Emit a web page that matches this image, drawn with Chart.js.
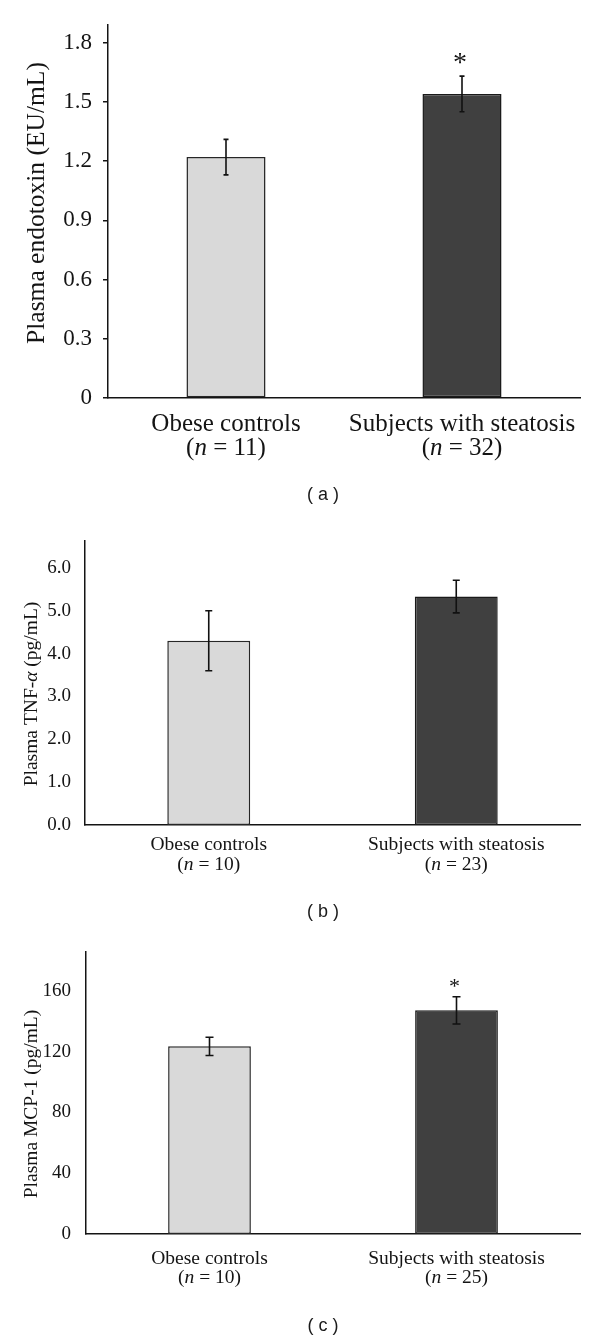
<!DOCTYPE html>
<html>
<head>
<meta charset="utf-8">
<script src="https://cdn.jsdelivr.net/npm/chart.js@4.4.1/dist/chart.umd.min.js"></script>
<style>
  html, body { margin: 0; padding: 0; background: #fff; }
  #page { position: relative; width: 600px; height: 1340px; }
  canvas { position: absolute; left: 0; }
  .cap { position: absolute; left: 0; width: 646px; text-align: center;
         font: 18px "Liberation Sans", Arial, sans-serif; color: #1a1a1a; line-height: 20px; }
</style>
</head>
<body>
<div id="page">
  <canvas id="chartA" width="600" height="520" style="top:0px"></canvas>
  <canvas id="chartB" width="600" height="410" style="top:520px"></canvas>
  <canvas id="chartC" width="600" height="410" style="top:930px"></canvas>
  <div class="cap" style="top:484px">( a )</div>
  <div class="cap" style="top:901px">( b )</div>
  <div class="cap" style="top:1315px">( c )</div>
</div>
<script>
// groups shared by all three panels
const groups = ['Obese controls', 'Subjects with steatosis'];

// (a) plasma endotoxin
const endotoxinN = [11, 32];
const endotoxinMean = [1.22, 1.54];
const endotoxinSem = [0.09, 0.09];
const endotoxinSig = ['', '*'];
const endotoxinTicks = [0, 0.3, 0.6, 0.9, 1.2, 1.5, 1.8];
const endotoxinTickLabels = ['0', '0.3', '0.6', '0.9', '1.2', '1.5', '1.8'];

// (b) plasma TNF-alpha
const tnfN = [10, 23];
const tnfMean = [4.30, 5.33];
const tnfSem = [0.70, 0.38];
const tnfSig = ['', ''];
const tnfTicks = [0, 1, 2, 3, 4, 5, 6];
const tnfTickLabels = ['0.0', '1.0', '2.0', '3.0', '4.0', '5.0', '6.0'];

// (c) plasma MCP-1
const mcpN = [10, 25];
const mcpMean = [123.5, 147.2];
const mcpSem = [6, 9];
const mcpSig = ['', '*'];
const mcpTicks = [0, 40, 80, 120, 160];
const mcpTickLabels = ['0', '40', '80', '120', '160'];

const SERIF = '"Liberation Serif", "Times New Roman", serif';
const INK = '#141414';

// draw a line made of plain / italic pieces, centred on cx
function drawRuns(ctx, runs, cx, y, size) {
    let widths = runs.map(r => {
        ctx.font = (r[1] ? 'italic ' : '') + size + 'px ' + SERIF;
        return ctx.measureText(r[0]).width;
    });
    let x = cx - widths.reduce((a, b) => a + b, 0) / 2;
    ctx.textAlign = 'left';
    ctx.textBaseline = 'alphabetic';
    runs.forEach((r, i) => {
        ctx.font = (r[1] ? 'italic ' : '') + size + 'px ' + SERIF;
        ctx.fillText(r[0], x, y);
        x += widths[i];
    });
}

const panelExtras = {
    id: 'panelExtras',
    afterDatasetsDraw(chart, args, o) {
        const ctx = chart.ctx;
        const xs = chart.scales.x, ys = chart.scales.y;
        ctx.save();
        ctx.strokeStyle = '#111';
        ctx.fillStyle = INK;
        ctx.lineWidth = 1.6;
        o.mean.forEach((m, i) => {
            const x = xs.getPixelForValue(i);
            const yHi = ys.getPixelForValue(m + o.sem[i]);
            const yLo = ys.getPixelForValue(m - o.sem[i]);
            ctx.beginPath();
            ctx.moveTo(x, yHi); ctx.lineTo(x, yLo);
            ctx.moveTo(x - o.cap, yHi); ctx.lineTo(x + o.cap, yHi);
            ctx.moveTo(x - o.cap, yLo); ctx.lineTo(x + o.cap, yLo);
            ctx.stroke();
            if (o.sig[i]) {
                ctx.font = o.starSize + 'px ' + SERIF;
                const mt = ctx.measureText(o.sig[i]);
                const h = mt.actualBoundingBoxAscent - mt.actualBoundingBoxDescent;
                const cy = yHi - o.starGap;
                ctx.textAlign = 'center';
                ctx.textBaseline = 'alphabetic';
                ctx.fillText(o.sig[i], x - 2, cy + h / 2 + mt.actualBoundingBoxDescent);
            }
        });
        ctx.restore();
    },
    afterDraw(chart, args, o) {
        const ctx = chart.ctx;
        const xs = chart.scales.x;
        ctx.save();
        ctx.fillStyle = INK;
        // category labels
        groups.forEach((g, i) => {
            const x = xs.getPixelForValue(i);
            drawRuns(ctx, [[g, false]], x, chart.chartArea.bottom + o.line1, o.labelSize);
            drawRuns(ctx, [['(', false], ['n', true], [' = ' + o.n[i] + ')', false]],
                     x, chart.chartArea.bottom + o.line2, o.labelSize);
        });
        // rotated y title
        ctx.translate(o.titleX, o.titleY);
        ctx.rotate(-Math.PI / 2);
        drawRuns(ctx, o.title, 0, 0, o.titleSize);
        ctx.restore();
    }
};

function makePanel(id, p) {
    return new Chart(document.getElementById(id), {
        type: 'bar',
        data: {
            labels: groups,
            datasets: [{
                data: p.mean,
                backgroundColor: ['#d9d9d9', '#404040'],
                borderColor: ['#262626', '#1a1a1a'],
                borderWidth: 1.5,
                borderSkipped: false,
                barPercentage: 0.335,
                categoryPercentage: 1
            }]
        },
        options: {
            responsive: false,
            animation: false,
            layout: { padding: { top: p.top, right: 20, left: 0, bottom: 0 } },
            scales: {
                x: {
                    grid: { display: false },
                    border: { color: INK, width: 1.5 },
                    ticks: { display: false },
                    afterFit: s => { s.height = p.xHeight; }
                },
                y: {
                    min: 0,
                    max: p.max,
                    afterBuildTicks: s => { s.ticks = p.ticks.map(v => ({ value: v })); },
                    afterFit: s => { s.width = p.left; },
                    grid: {
                        display: p.tickMarks,
                        drawOnChartArea: false,
                        drawTicks: true,
                        tickLength: 5,
                        color: INK,
                        lineWidth: 1.5
                    },
                    border: { color: INK, width: 1.5 },
                    ticks: {
                        padding: p.tickPad,
                        color: INK,
                        font: { family: SERIF, size: p.tickSize },
                        callback: (v, i) => p.tickLabels[i]
                    }
                }
            },
            plugins: {
                legend: { display: false },
                tooltip: { enabled: false },
                panelExtras: {
                    mean: p.mean, sem: p.sem, sig: p.sig, n: p.n,
                    cap: p.cap, starSize: p.starSize, starGap: p.starGap,
                    labelSize: p.labelSize, line1: p.line1, line2: p.line2,
                    title: p.title, titleSize: p.titleSize, titleX: p.titleX, titleY: p.titleY
                }
            }
        },
        plugins: [panelExtras]
    });
}

makePanel('chartA', {
    mean: endotoxinMean, sem: endotoxinSem, sig: endotoxinSig, n: endotoxinN,
    ticks: endotoxinTicks, tickLabels: endotoxinTickLabels,
    max: 1.89, top: 21, left: 108, xHeight: 122, tickMarks: true, tickPad: 11, tickSize: 23,
    cap: 2.5, starSize: 28, starGap: 11,
    labelSize: 25, line1: 33, line2: 57,
    title: [['Plasma endotoxin (EU/mL)', false]], titleSize: 25.5, titleX: 44, titleY: 203
});

makePanel('chartB', {
    mean: tnfMean, sem: tnfSem, sig: tnfSig, n: tnfN,
    ticks: tnfTicks, tickLabels: tnfTickLabels,
    max: 6.64, top: 15, left: 85, xHeight: 105, tickMarks: false, tickPad: 9, tickSize: 19,
    cap: 3.5, starSize: 22, starGap: 8,
    labelSize: 19.5, line1: 25, line2: 45,
    title: [['Plasma TNF-', false], ['α', true], [' (pg/mL)', false]], titleSize: 19.5, titleX: 37, titleY: 174
});

makePanel('chartC', {
    mean: mcpMean, sem: mcpSem, sig: mcpSig, n: mcpN,
    ticks: mcpTicks, tickLabels: mcpTickLabels,
    max: 186, top: 17, left: 86, xHeight: 106, tickMarks: false, tickPad: 10, tickSize: 19,
    cap: 4, starSize: 22, starGap: 8,
    labelSize: 19.5, line1: 30, line2: 49,
    title: [['Plasma MCP-1 (pg/mL)', false]], titleSize: 19.5, titleX: 37, titleY: 174
});
</script>
</body>
</html>
